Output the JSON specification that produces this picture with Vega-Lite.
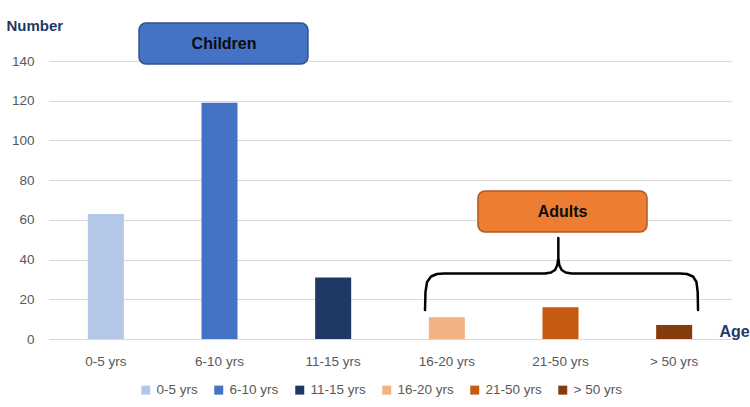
{
  "$schema": "https://vega.github.io/schema/vega-lite/v6.json",
  "width": 682,
  "height": 278,
  "autosize": {"type": "none"},
  "padding": {"left": 49, "top": 61, "right": 19, "bottom": 68},
  "background": "white",
  "config": {"view": {"stroke": null}, "font": "Liberation Sans"},
  "datasets": {
    "ages": [
      {"age": "0-5 yrs", "count": 63},
      {"age": "6-10 yrs", "count": 119},
      {"age": "11-15 yrs", "count": 31},
      {"age": "16-20 yrs", "count": 11},
      {"age": "21-50 yrs", "count": 16},
      {"age": "> 50 yrs", "count": 7}
    ],
    "brace": [
      {"i": 0, "bx": 3.308, "by": 14.6},
      {"i": 1, "bx": 3.312, "by": 23.67},
      {"i": 2, "bx": 3.326, "by": 28.7},
      {"i": 3, "bx": 3.361, "by": 31.47},
      {"i": 4, "bx": 3.413, "by": 32.73},
      {"i": 5, "bx": 3.475, "by": 32.99},
      {"i": 6, "bx": 4.364, "by": 32.99},
      {"i": 7, "bx": 4.416, "by": 33.49},
      {"i": 8, "bx": 4.452, "by": 34.75},
      {"i": 9, "bx": 4.472, "by": 37.27},
      {"i": 10, "bx": 4.481, "by": 40.79},
      {"i": 11, "bx": 4.481, "by": 50.86},
      {"i": 12, "bx": 4.481, "by": 40.79},
      {"i": 13, "bx": 4.489, "by": 37.27},
      {"i": 14, "bx": 4.51, "by": 34.75},
      {"i": 15, "bx": 4.545, "by": 33.49},
      {"i": 16, "bx": 4.598, "by": 32.99},
      {"i": 17, "bx": 5.551, "by": 32.99},
      {"i": 18, "bx": 5.613, "by": 32.73},
      {"i": 19, "bx": 5.666, "by": 31.47},
      {"i": 20, "bx": 5.696, "by": 28.7},
      {"i": 21, "bx": 5.707, "by": 23.67},
      {"i": 22, "bx": 5.71, "by": 14.6}
    ]
  },
  "layer": [
    {
      "data": {"name": "ages"},
      "mark": {"type": "bar"},
      "encoding": {
        "x": {
          "field": "age",
          "type": "nominal",
          "sort": null,
          "scale": {"paddingInner": 0.683, "paddingOuter": 0.3415},
          "axis": {
            "labelAngle": 0,
            "labelFontSize": 13.5,
            "labelColor": "#595959",
            "labelPadding": 15,
            "ticks": false,
            "domain": true,
            "domainColor": "#D9D9D9",
            "title": "Age",
            "titleFontSize": 16,
            "titleFontWeight": "bold",
            "titleColor": "#1F3864",
            "titleAlign": "left",
            "titleBaseline": "middle",
            "titleX": 670,
            "titleY": -8
          }
        },
        "y": {
          "field": "count",
          "type": "quantitative",
          "scale": {"domain": [0, 140], "nice": false},
          "axis": {
            "values": [0, 20, 40, 60, 80, 100, 120, 140],
            "labelOverlap": false,
            "grid": true,
            "gridColor": "#D9D9D9",
            "domain": false,
            "ticks": false,
            "labelFontSize": 13.5,
            "labelColor": "#595959",
            "labelPadding": 15,
            "title": "Number",
            "titleAngle": 0,
            "titleFontSize": 15,
            "titleFontWeight": "bold",
            "titleColor": "#1F3864",
            "titleAlign": "left",
            "titleBaseline": "middle",
            "titleX": -43,
            "titleY": -36
          }
        },
        "color": {
          "field": "age",
          "type": "nominal",
          "sort": null,
          "scale": {
            "domain": ["0-5 yrs", "6-10 yrs", "11-15 yrs", "16-20 yrs", "21-50 yrs", "> 50 yrs"],
            "range": ["#B4C7E7", "#4472C4", "#203864", "#F4B183", "#C55A11", "#843C0C"]
          },
          "legend": {
            "orient": "none",
            "legendX": 90,
            "legendY": 322,
            "direction": "horizontal",
            "title": null,
            "symbolType": "square",
            "symbolSize": 81,
            "symbolStrokeWidth": 0,
            "symbolOpacity": 1,
            "labelFontSize": 13.5,
            "labelColor": "#595959",
            "labelOffset": 4,
            "columnPadding": 14
          }
        }
      }
    },
    {
      "layer": [
        {
          "data": {"values": [{}]},
          "mark": {"type": "rect", "cornerRadius": 7, "fill": "#4472C4", "stroke": "#2F528F", "strokeWidth": 1.5},
          "encoding": {
            "x": {"datum": 0.792, "type": "quantitative", "scale": {"domain": [0, 6], "nice": false, "zero": false}, "axis": null},
            "x2": {"datum": 2.278},
            "y": {"datum": 159.1, "type": "quantitative", "axis": null},
            "y2": {"datum": 138.5}
          }
        },
        {
          "data": {"values": [{}]},
          "mark": {"type": "text", "text": "Children", "fontSize": 16, "fontWeight": "bold", "color": "#0D0D0D", "align": "center", "baseline": "middle"},
          "encoding": {
            "x": {"datum": 1.54, "type": "quantitative", "axis": null},
            "y": {"datum": 148.6, "type": "quantitative", "axis": null}
          }
        },
        {
          "data": {"values": [{}]},
          "mark": {"type": "rect", "cornerRadius": 7, "fill": "#ED7D31", "stroke": "#AE5A21", "strokeWidth": 1.5},
          "encoding": {
            "x": {"datum": 3.774, "type": "quantitative", "axis": null},
            "x2": {"datum": 5.261},
            "y": {"datum": 74.53, "type": "quantitative", "axis": null},
            "y2": {"datum": 53.88}
          }
        },
        {
          "data": {"values": [{}]},
          "mark": {"type": "text", "text": "Adults", "fontSize": 16, "fontWeight": "bold", "color": "#0D0D0D", "align": "center", "baseline": "middle"},
          "encoding": {
            "x": {"datum": 4.518, "type": "quantitative", "axis": null},
            "y": {"datum": 63.96, "type": "quantitative", "axis": null}
          }
        },
        {
          "data": {"name": "brace"},
          "mark": {"type": "line", "color": "#000000", "strokeWidth": 2.5, "strokeCap": "round", "strokeJoin": "round"},
          "encoding": {
            "x": {"field": "bx", "type": "quantitative", "axis": null},
            "y": {"field": "by", "type": "quantitative", "axis": null},
            "order": {"field": "i", "type": "quantitative"}
          }
        }
      ]
    }
  ],
  "resolve": {"scale": {"x": "independent"}, "axis": {"y": "independent"}}
}
